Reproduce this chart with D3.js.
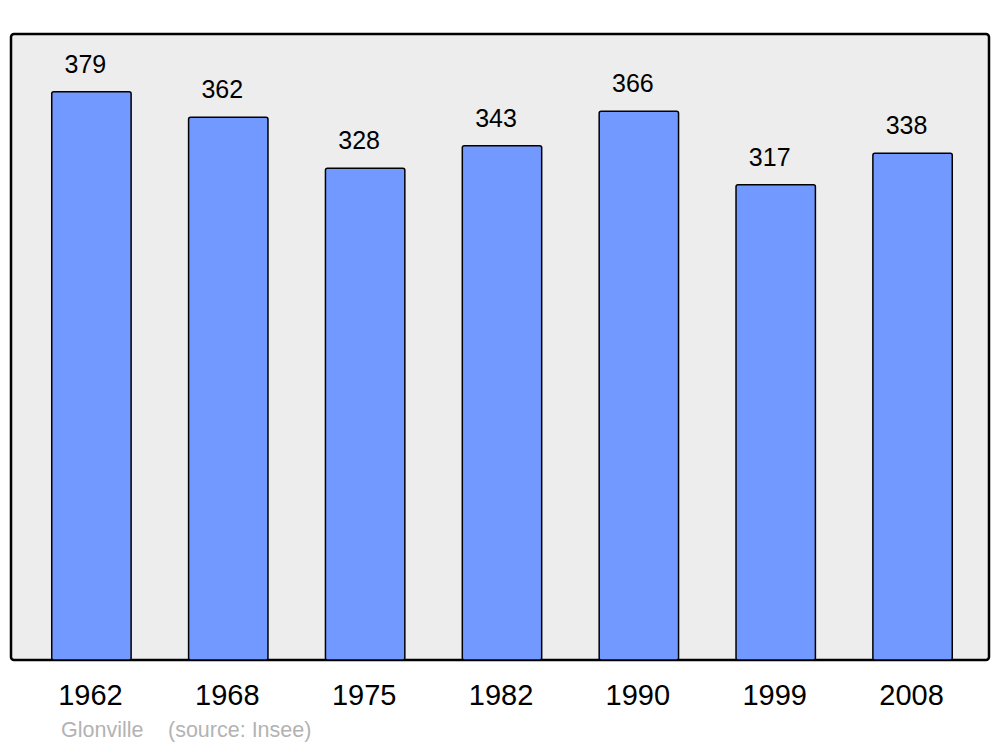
<!DOCTYPE html>
<html>
<head>
<meta charset="utf-8">
<script src="https://cdn.jsdelivr.net/npm/d3@7"></script>
<style>
  body { margin: 0; background: #fff; }
</style>
</head>
<body>
<div id="chart"></div>
<script>
// Population per census year
var years = ["1962", "1968", "1975", "1982", "1990", "1999", "2008"];
var population = [379, 362, 328, 343, 366, 317, 338];
var townName = "Glonville";
var sourceNote = "(source: Insee)";

var svgWidth = 1000;
var svgHeight = 747;

// panel box
var panel = { left: 11, top: 34, right: 989, bottom: 660 };

var svg = d3.select("#chart")
  .append("svg")
  .attr("width", svgWidth)
  .attr("height", svgHeight)
  .style("font-family", "'Liberation Sans', Arial, sans-serif");

svg.append("rect")
  .attr("x", panel.left)
  .attr("y", panel.top)
  .attr("width", panel.right - panel.left)
  .attr("height", panel.bottom - panel.top)
  .attr("rx", 3)
  .attr("fill", "#ededed")
  .attr("stroke", "#000")
  .attr("stroke-width", 2.5);

var xScale = d3.scaleBand()
  .domain(years)
  .range([23, 981])
  .paddingInner(0.42)
  .paddingOuter(0.21);

var yScale = d3.scaleLinear()
  .domain([0, d3.max(population) * 1.1])
  .range([panel.bottom, panel.top + 1]);

var rows = years.map(function(y, i) { return { year: y, value: population[i] }; });

svg.append("g")
  .selectAll("rect")
  .data(rows)
  .enter().append("rect")
    .attr("x", d => xScale(d.year))
    .attr("y", d => yScale(d.value))
    .attr("width", xScale.bandwidth())
    .attr("height", d => panel.bottom - yScale(d.value))
    .attr("rx", 2)
    .attr("fill", "#7299ff")
    .attr("stroke", "#000")
    .attr("stroke-width", 1.5);

// value labels (sit a little left of bar centre, as in the original)
svg.append("g")
  .attr("font-size", 25)
  .attr("text-anchor", "middle")
  .selectAll("text")
  .data(rows)
  .enter().append("text")
    .attr("x", d => xScale(d.year) + xScale.bandwidth() / 2 - 6)
    .attr("y", d => yScale(d.value) - 19)
    .text(d => d.value);

// year axis
var bottomAxis = d3.axisBottom(xScale).tickSize(0).tickPadding(0);
var axisG = svg.append("g")
  .attr("transform", "translate(-1," + panel.bottom + ")")
  .call(bottomAxis);
axisG.select(".domain").remove();
axisG.selectAll("text")
  .attr("dy", null)
  .attr("y", 45)
  .attr("font-size", 29)
  .attr("font-family", "'Liberation Sans', Arial, sans-serif")
  .attr("fill", "#000");

// footer
svg.append("text")
  .attr("x", 61)
  .attr("y", 737)
  .attr("font-size", 21.5)
  .attr("fill", "#b3b3b3")
  .text(townName);

svg.append("text")
  .attr("x", 168)
  .attr("y", 737)
  .attr("font-size", 21.5)
  .attr("fill", "#b3b3b3")
  .text(sourceNote);
</script>
</body>
</html>
